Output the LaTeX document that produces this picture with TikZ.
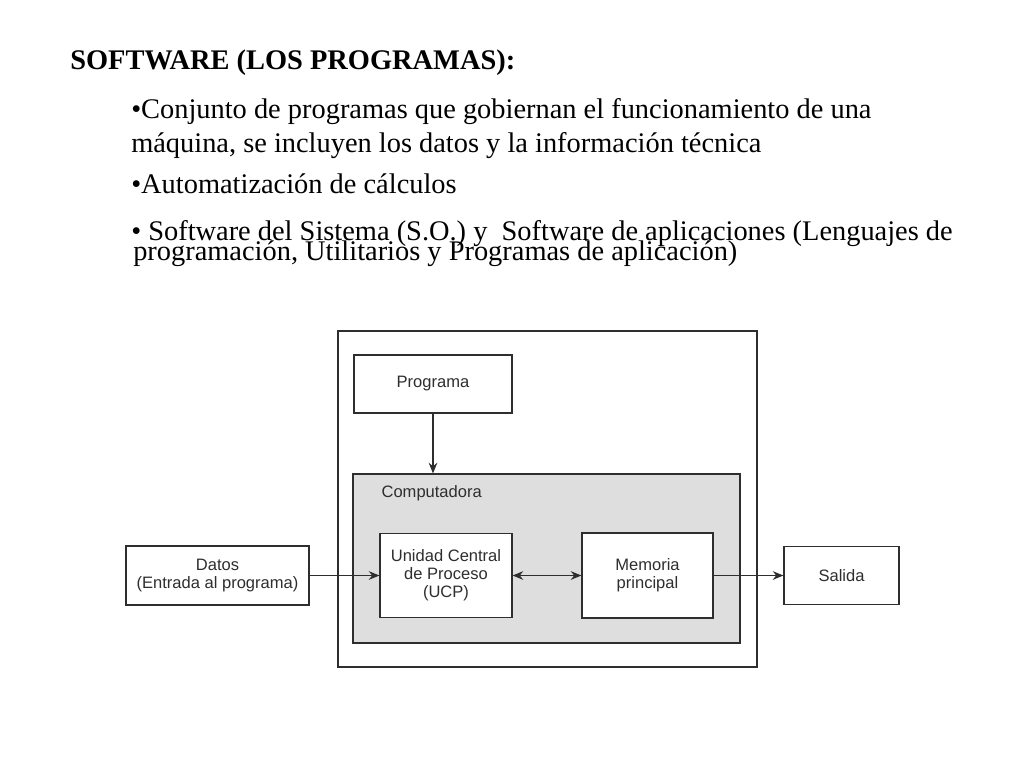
\documentclass[tikz,border=0pt]{standalone}
\usepackage{fontspec}
\setmainfont{Liberation Serif}
\newfontfamily\diagfont{Liberation Sans}
\usepackage{tikz}
\usetikzlibrary{arrows.meta}
\definecolor{trazo}{HTML}{2E2E2E}
\definecolor{relleno}{HTML}{DEDEDE}
\newcommand{\apretado}{\lineskiplimit=-50pt\relax}

\begin{document}
\begin{tikzpicture}[x=0.75pt, y=-0.75pt,
	caja/.style={draw=trazo, line width=0.9pt, fill=white, inner sep=0pt, align=center, text=trazo, font=\diagfont\fontsize{12.4pt}{13.6pt}\selectfont},
	linea/.style={anchor=base west, inner sep=0pt, align=left, font=\fontsize{21.3pt}{25pt}\selectfont}]
				\useasboundingbox (0, 0) rectangle (1024, 768);
				% texto
				\node[linea, font=\bfseries\fontsize{21.3pt}{25pt}\selectfont] (T)at(70, 69) {SOFTWARE (LOS PROGRAMAS):};
				\node[linea] (L1)at(131, 118) {•Conjunto de programas que gobiernan el funcionamiento de una};
				\node[linea] (L2)at(131, 152) {máquina, se incluyen los datos y la información técnica};
				\node[linea] (L3)at(131, 193) {•Automatización de cálculos};
				% el ancla base es la de la segunda linea
				\node[linea, font=\fontsize{21.3pt}{15pt}\selectfont\apretado] (L4)at(131, 260) {• Software del Sistema (S.O.) y~ Software de aplicaciones (Lenguajes de\\\hspace{1.5pt}programación, Utilitarios y Programas de aplicación)};
				% diagrama
				\node[caja, minimum width=314.25pt, minimum height=252pt] (Sis)at(547.5, 499) {};
				\node[caja, minimum width=118.5pt, minimum height=43.5pt] (Prog)at(433, 384) {Programa};
				\node[caja, fill=relleno, minimum width=290.25pt, minimum height=126.75pt] (Comp)at(546.5, 558.5) {};
				\node[caja, draw=none, fill=none, anchor=base west] (CompL)at(381, 497) {Computadora};
				\node[caja, minimum width=99pt, minimum height=63pt] (UCP)at(446, 575.5) {Unidad Central\\de Proceso\\(UCP)};
				\node[caja, minimum width=98.25pt, minimum height=63.75pt] (Mem)at(647.5, 575.5) {Memoria\\principal};
				\node[caja, minimum width=137.25pt, minimum height=44.25pt] (Dat)at(217.5, 575.5) {Datos\\(Entrada al programa)};
				\node[caja, minimum width=86.25pt, minimum height=43.5pt] (Sal)at(841.5, 575.5) {Salida};
				\draw[->, >={Stealth[length=8pt, width=6.5pt]}, trazo, line width=0.8pt] (Prog.south) -- (Prog.south |- Comp.north);
				\draw[->, >={Stealth[length=8pt, width=6.5pt]}, trazo, line width=0.8pt] (Dat) -- (UCP);
				\draw[<->, >={Stealth[length=8pt, width=6.5pt]}, trazo, line width=0.8pt] (UCP) -- (Mem);
				\draw[->, >={Stealth[length=8pt, width=6.5pt]}, trazo, line width=0.8pt] (Mem) -- (Sal);
			\end{tikzpicture}
\end{document}
